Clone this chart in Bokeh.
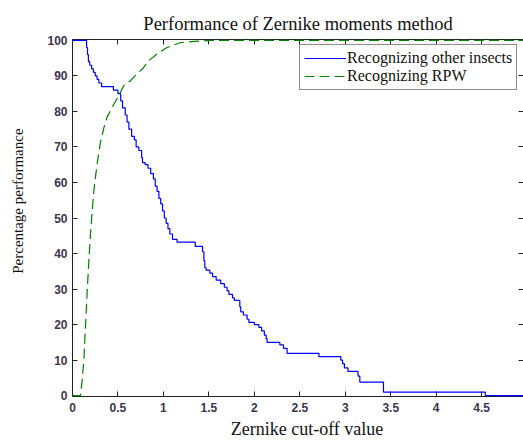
import numpy as np
from bokeh.plotting import figure
from bokeh.models import (Range1d, LinearAxis, Legend, LegendItem, FixedTicker,
                          CustomJSTickFormatter)
from bokeh.embed import file_html
from bokeh.resources import INLINE

# Recognizing other insects (step levels: start x, value)
other_x = [0.0, 0.155, 0.165, 0.175, 0.19, 0.21, 0.23, 0.25, 0.27, 0.29, 0.32, 0.45, 0.5,
           0.53, 0.55, 0.58, 0.6, 0.62, 0.65, 0.68, 0.7, 0.73, 0.76, 0.77, 0.8, 0.83, 0.86,
           0.89, 0.91, 0.93, 0.95, 0.97, 0.99, 1.01, 1.03, 1.05, 1.07, 1.1, 1.15, 1.35, 1.43,
           1.445, 1.455, 1.47, 1.51, 1.54, 1.58, 1.63, 1.67, 1.7, 1.72, 1.76, 1.78, 1.84, 1.85,
           1.88, 1.92, 1.94, 2.0, 2.05, 2.08, 2.11, 2.13, 2.14, 2.28, 2.32, 2.36, 2.71, 2.95,
           2.97, 2.99, 3.03, 3.14, 3.16, 3.42, 4.54, 5.0]
other_y = [100, 98, 96, 94, 93, 92, 91, 90, 89, 88, 87, 86, 85,
           83, 81, 79, 77, 75, 73, 72, 70, 69, 67, 65.6, 65, 64, 62.5,
           61, 59, 57.5, 55.5, 54, 52, 50, 48.5, 47, 45.5, 44, 43.2, 42, 40.5,
           38, 36, 35.3, 34.5, 33.5, 32.5, 31.5, 30.5, 29.5, 28.5, 27.5, 26.8, 25, 23.6,
           22.7, 21.5, 20.6, 20, 19.2, 18.2, 17, 16, 15, 14.3, 13.3, 11.9, 11.0, 10,
           9, 7.8, 6.8, 5.5, 3.8, 1.0, 0, 0]

# Recognizing RPW
rpw_x = [0.0, 0.088, 0.107, 0.125, 0.143, 0.16, 0.18, 0.198, 0.217, 0.235, 0.27, 0.31,
         0.345, 0.38, 0.437, 0.51, 0.565, 0.64, 0.69, 0.77, 0.84, 0.95, 1.04, 1.19, 1.34,
         1.52, 5.0]
rpw_y = [0, 0, 4.5, 10, 19.4, 28.7, 38, 45.6, 52, 57.7, 65.2, 71.7,
         75.4, 78.4, 81.2, 84.5, 87.3, 88.7, 90.1, 92, 94.3, 96.6, 98, 99.4, 99.7,
         100, 100]

x_ticks = [0, 0.5, 1, 1.5, 2, 2.5, 3, 3.5, 4, 4.5, 5]
y_ticks = [0, 10, 20, 30, 40, 50, 60, 70, 80, 90, 100]

TICK_COLOR = "#3d3450"
AX_COLOR = "#222222"
NB = "\u00a0"

# staircase vertices for the step series
sx = np.repeat(other_x, 2)[1:]
sy = np.repeat(other_y, 2)[:-1]

p = figure(width=523, height=442, output_backend="svg", toolbar_location=None,
           x_range=Range1d(0, 4.96), y_range=Range1d(-0.25, 100.25),
           min_border_left=72, min_border_right=0, min_border_top=39, min_border_bottom=46)
p.title.text = "Performance of Zernike moments method"
p.title.align = "center"
p.title.text_font = "Liberation Serif"
p.title.text_font_size = "18.5px"
p.title.text_font_style = "normal"
p.title.text_color = "#111111"
p.title.standoff = 12
p.grid.visible = False
p.outline_line_color = None

for ax in [p.xaxis[0], p.yaxis[0]]:
    ax.major_tick_in = 5
    ax.major_tick_out = 0
    ax.minor_tick_line_color = None
    ax.major_label_text_font = "Liberation Sans"
    ax.major_label_text_font_style = "bold"
    ax.major_label_text_font_size = "12px"
    ax.major_label_text_color = TICK_COLOR
    ax.axis_line_color = AX_COLOR
    ax.major_tick_line_color = AX_COLOR
    ax.axis_label_text_font = "Liberation Serif"
    ax.axis_label_text_font_style = "normal"
    ax.axis_label_text_color = "#111111"
p.xaxis[0].ticker = FixedTicker(ticks=x_ticks)
p.yaxis[0].ticker = FixedTicker(ticks=y_ticks)
p.xaxis[0].axis_label = NB * 4 + "Zernike cut-off value"
p.xaxis[0].axis_label_text_font_size = "18px"
p.xaxis[0].major_label_standoff = 6
p.xaxis[0].axis_label_standoff = 4
p.yaxis[0].axis_label = NB * 9 + "Percentage performance"
p.yaxis[0].axis_label_text_font_size = "15px"
p.yaxis[0].major_label_standoff = 5
p.yaxis[0].axis_label_standoff = 18

blank = "return ''"
top = LinearAxis(ticker=FixedTicker(ticks=x_ticks), major_tick_in=5, major_tick_out=0,
                 minor_tick_line_color=None, formatter=CustomJSTickFormatter(code=blank),
                 major_label_standoff=0, axis_line_color=AX_COLOR,
                 major_tick_line_color=AX_COLOR)
p.add_layout(top, "above")
right = LinearAxis(ticker=FixedTicker(ticks=y_ticks), major_tick_in=5, major_tick_out=0,
                   minor_tick_line_color=None, formatter=CustomJSTickFormatter(code=blank),
                   major_label_standoff=0, axis_line_color=None,
                   major_tick_line_color=AX_COLOR)
p.add_layout(right, "right")

r1 = p.line(sx, sy, line_color="#0000ff", line_width=1.2, level="overlay")
r2 = p.line(rpw_x, rpw_y, line_color="#008000", line_width=1.2, line_dash="10 5",
            level="overlay")

legend = Legend(items=[LegendItem(label="Recognizing other insects", renderers=[r1]),
                       LegendItem(label="Recognizing RPW", renderers=[r2])],
                location=(227, 306))
legend.padding = 4
legend.spacing = 0
legend.glyph_width = 42
legend.glyph_height = 18
legend.label_standoff = 1
legend.label_height = 18
legend.label_text_font = "Liberation Serif"
legend.label_text_font_size = "16px"
legend.label_text_color = "#111111"
legend.border_line_color = AX_COLOR
legend.border_line_width = 1
legend.background_fill_alpha = 1
p.add_layout(legend, "center")

open("out.html", "w").write(file_html(p, INLINE))
